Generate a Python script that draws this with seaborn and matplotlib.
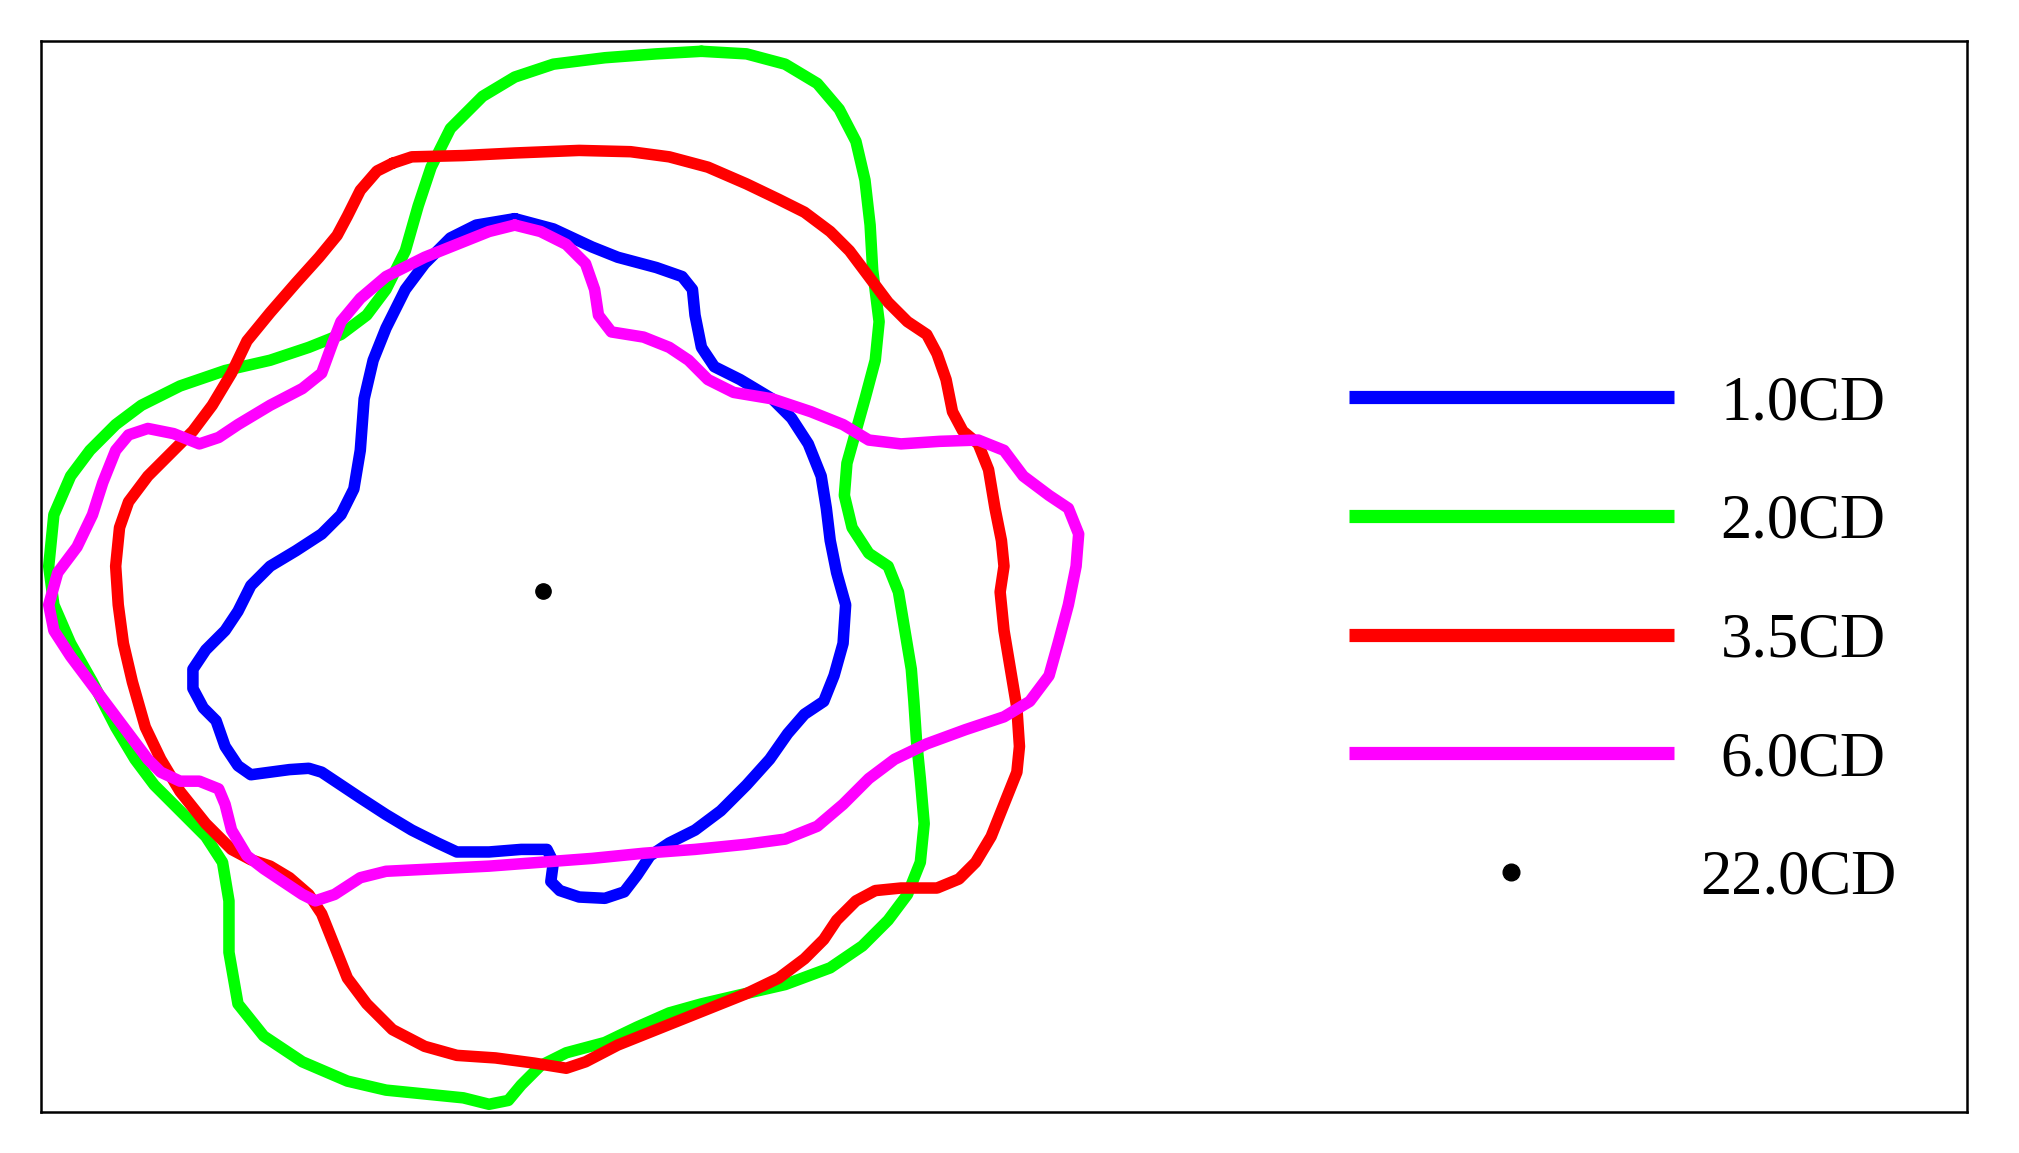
import numpy as np
import pandas as pd
import matplotlib
matplotlib.use('Agg')
import matplotlib.pyplot as plt
import matplotlib.transforms as mtransforms
from matplotlib.lines import Line2D
import seaborn as sns

# ── DATA: contour outlines (image units, centre = probe point) ──
labels = ['1.0CD', '2.0CD', '3.5CD', '6.0CD']
colors = ['#0000ff', '#00ff00', '#ff0000', '#ff00ff']
center_label = '22.0CD'
center_x = [0.0]
center_y = [0.0]

blue_x = [400, 430, 460, 480, 510, 530, 538, 540, 545, 555, 575, 600, 615, 628, 638, 642, 645, 650, 657,
          655, 648, 640, 625, 612, 598, 580, 560, 540, 520, 505, 495, 485, 470, 450, 435, 428, 430, 425,
          405, 380, 355, 340, 320, 300, 280, 265, 250, 240, 225, 210, 195, 185, 175, 168, 158, 150, 150,
          160, 175, 185, 195, 210, 230, 250, 265, 275, 280, 283, 290, 300, 315, 330, 350, 370, 400]
blue_y = [170, 178, 192, 200, 208, 215, 225, 245, 270, 285, 295, 310, 325, 345, 370, 395, 420, 445, 470,
          500, 525, 545, 555, 570, 590, 610, 630, 645, 655, 665, 680, 693, 698, 697, 692, 685, 670, 660,
          660, 662, 662, 655, 645, 633, 620, 610, 600, 597, 598, 600, 602, 595, 580, 560, 550, 535, 520,
          505, 490, 475, 455, 440, 428, 415, 400, 380, 350, 310, 280, 255, 225, 205, 185, 175, 170]

green_x = [545, 580, 610, 635, 652, 665, 672, 676, 678, 683, 680, 672, 665, 658, 656, 662, 675, 690, 698,
           703, 708, 710, 712, 715, 718, 715, 705, 690, 670, 645, 610, 575, 545, 520, 495, 470, 440, 420,
           405, 395, 380, 360, 330, 300, 270, 235, 205, 185, 178, 178, 173, 160, 140, 120, 105, 90, 72,
           55, 42, 38, 42, 55, 70, 90, 110, 140, 175, 210, 240, 265, 285, 300, 315, 325, 335, 350, 375,
           400, 430, 470, 510, 545]
green_y = [40, 42, 50, 65, 85, 110, 140, 175, 210, 250, 280, 310, 335, 360, 385, 410, 430, 440, 460,
           490, 520, 545, 575, 605, 640, 670, 695, 715, 735, 752, 765, 773, 780, 787, 798, 810, 818, 828,
           843, 855, 858, 853, 850, 847, 840, 825, 805, 780, 740, 700, 670, 650, 630, 610, 590, 565, 530,
           500, 470, 440, 400, 370, 350, 330, 315, 300, 288, 280, 270, 260, 245, 225, 195, 160, 130, 100, 75,
           60, 50, 45, 42, 40]

red_x = [305, 320, 360, 400, 450, 490, 520, 550, 580, 605, 625, 645, 660, 675, 690, 705, 720, 728, 735,
         740, 748, 760, 768, 773, 778, 780, 777, 780, 785, 790, 792, 790, 780, 770, 758, 745, 728, 700,
         680, 665, 650, 640, 625, 605, 580, 555, 530, 505, 480, 455, 440, 415, 385, 355, 330, 305, 285,
         270, 260, 250, 240, 225, 210, 195, 180, 160, 140, 125, 113, 103, 96, 92, 90, 93, 100, 115, 130,
         150, 165, 180, 192, 210, 230, 248, 262, 270, 280, 293, 305]
red_y = [127, 122, 121, 119, 117, 118, 122, 130, 143, 155, 165, 180, 195, 215, 235, 250, 260, 275, 295,
         320, 335, 345, 365, 395, 420, 440, 460, 490, 520, 550, 580, 600, 625, 650, 670, 683, 690, 690,
         692, 700, 715, 730, 745, 760, 772, 782, 792, 802, 812, 825, 830, 826, 822, 820, 813, 800, 780,
         760, 735, 710, 695, 682, 673, 668, 660, 640, 615, 590, 565, 530, 500, 470, 440, 410, 390, 370, 355,
         335, 315, 290, 265, 243, 220, 200, 183, 168, 148, 133, 127]

magenta_x = [400, 420, 440, 455, 462, 465, 475, 500, 520, 535, 550, 570, 600, 630, 655, 675, 700, 730,
             760, 780, 795, 815, 830, 838, 836, 830, 822, 815, 800, 780, 750, 720, 695, 675, 655, 635,
             610, 580, 540, 500, 460, 420, 380, 340, 300, 280, 260, 245, 235, 220, 205, 192, 180, 175,
             170, 155, 140, 125, 115, 100, 85, 70, 55, 42, 38, 45, 60, 72, 80, 90, 100, 115, 135, 155,
             170, 185, 210, 235, 250, 258, 265, 280, 300, 330, 360, 380, 400]
magenta_y = [175, 180, 190, 205, 225, 245, 258, 262, 270, 280, 295, 305, 310, 320, 330, 342, 345, 343,
             342, 350, 370, 385, 395, 415, 440, 470, 500, 525, 545, 557, 567, 578, 590, 605, 625, 642,
             652, 656, 660, 663, 667, 670, 673, 675, 677, 682, 695, 700, 695, 685, 675, 665, 645, 625,
             613, 607, 607, 600, 590, 570, 550, 530, 510, 490, 470, 445, 425, 400, 375, 350, 338, 333, 337, 345,
             340, 330, 315, 302, 290, 268, 250, 232, 215, 200, 188, 180, 175]

CX, CY = 422, 459  # probe point position in the same units

frames = []
for lab, xs, ys in zip(labels, [blue_x, green_x, red_x, magenta_x], [blue_y, green_y, red_y, magenta_y]):
    frames.append(pd.DataFrame({'x': np.array(xs) - CX, 'y': CY - np.array(ys),
                                'order': np.arange(len(xs)), 'level': lab}))
df = pd.concat(frames, ignore_index=True)

# ── PLOT ──────────────────────────────────────────────────────────────────────
sns.set_style('white')
plt.rcParams['font.family'] = ['Liberation Serif', 'DejaVu Serif']
plt.rcParams['lines.solid_joinstyle'] = 'round'
plt.rcParams['lines.solid_capstyle'] = 'butt'

fig = plt.figure(figsize=(20.19, 11.53), dpi=100)
ax = fig.add_axes([41 / 2019, 1 - 1112 / 1153, (1967 - 41) / 2019, (1112 - 41) / 1153])

sns.lineplot(data=df, x='x', y='y', hue='level', palette=dict(zip(labels, colors)),
             sort=False, estimator=None, units='level', legend=False, ax=ax)
for ln in ax.lines:
    ln.set_linewidth(8.3)
    ln.set_solid_joinstyle('round')
    ln.set_solid_capstyle('round')
ax.plot(center_x, center_y, 'o', color='black', markersize=11)

ax.set_xlim(32 - CX, 1528 - CX)
ax.set_ylim(CY - 864, CY - 32)
ax.set_xticks([])
ax.set_yticks([])
ax.set_xlabel('')
ax.set_ylabel('')
for s in ax.spines.values():
    s.set_visible(True)
    s.set_color('black')
    s.set_linewidth(1.8)

handles = [Line2D([], [], color=c, lw=9.5) for c in colors]
handles.append(Line2D([], [], color='black', marker='o', linestyle='none', markersize=12))
leg = ax.legend(handles, labels + [center_label], loc='upper left', bbox_to_anchor=(0.679, 0.688),
                frameon=False, fontsize=45, handlelength=5.2, handletextpad=0.75,
                labelspacing=0.97, borderaxespad=0, borderpad=0, numpoints=1)
for t in leg.get_texts():
    t.set_color('black')
# longer label sits a little further left, as in the original
last = leg.get_texts()[-1]
last.set_transform(last.get_transform() + mtransforms.ScaledTranslation(-0.2, 0, fig.dpi_scale_trans))

plt.savefig('out.png', dpi=100)
plt.close()
